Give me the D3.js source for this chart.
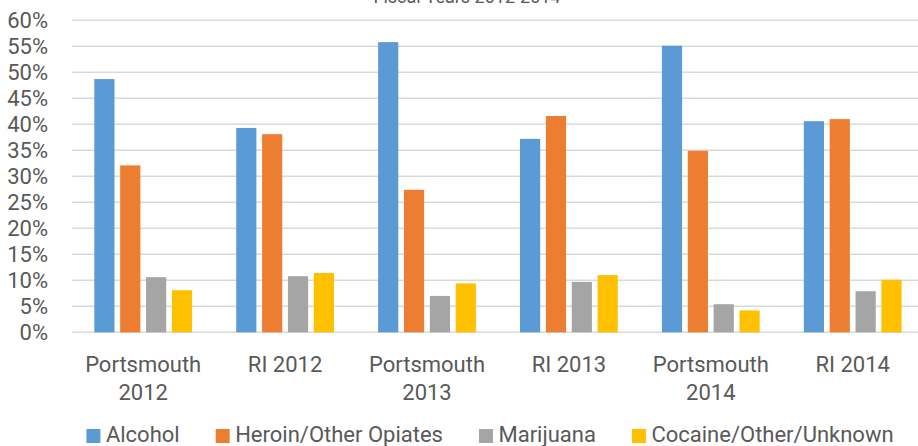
<!DOCTYPE html>
<html>
<head>
<meta charset="utf-8">
<script src="https://cdn.jsdelivr.net/npm/d3@7"></script>
<style>
  html, body { margin: 0; padding: 0; background: #fff; }
  svg { display: block; font-family: Roboto, "Noto Sans", sans-serif; }
</style>
</head>
<body>
<svg width="918" height="446"></svg>
<script>
const categories = [
  ["Portsmouth", "2012"],
  ["RI 2012"],
  ["Portsmouth", "2013"],
  ["RI 2013"],
  ["Portsmouth", "2014"],
  ["RI 2014"]
];
const seriesNames = ["Alcohol", "Heroin/Other Opiates", "Marijuana", "Cocaine/Other/Unknown"];
const alcohol = [48.7, 39.3, 55.8, 37.2, 55.1, 40.6];
const heroin = [32.1, 38.1, 27.4, 41.6, 34.9, 41.0];
const marijuana = [10.6, 10.8, 7.0, 9.7, 5.4, 7.9];
const cocaine = [8.1, 11.4, 9.4, 11.0, 4.2, 10.1];
const yTicks = [0, 5, 10, 15, 20, 25, 30, 35, 40, 45, 50, 55, 60];
const colors = ["#5B9BD5", "#ED7D31", "#A5A5A5", "#FFC000"];

const series = [alcohol, heroin, marijuana, cocaine];
const textColor = "#595959";

const svg = d3.select("svg");

const plotLeft = 72.25;
const plotWidth = 851.4;
const plotTop = 20.3;
const plotBottom = 332.3;

const x0 = d3.scaleBand()
  .domain(d3.range(categories.length))
  .range([plotLeft, plotLeft + plotWidth])
  .paddingInner(0.311)
  .paddingOuter(0.1555);

const x1 = d3.scaleBand()
  .domain(d3.range(series.length))
  .range([0, x0.bandwidth()])
  .paddingInner(0.22);

const y = d3.scaleLinear().domain([0, 60]).range([plotBottom, plotTop]);

// gridlines
svg.append("g")
  .selectAll("line")
  .data(yTicks)
  .join("line")
  .attr("x1", plotLeft)
  .attr("x2", 918)
  .attr("y1", (d) => y(d))
  .attr("y2", (d) => y(d))
  .attr("stroke", "#d9d9d9")
  .attr("stroke-width", 1.6);

// y tick labels
svg.append("g")
  .selectAll("text")
  .data(yTicks)
  .join("text")
  .attr("x", 48)
  .attr("y", (d) => y(d))
  .attr("dy", "0.36em")
  .attr("text-anchor", "end")
  .attr("fill", textColor)
  .style("font-size", "22px")
  .text((d) => d + "%");

// bars
const groups = svg.append("g")
  .selectAll("g")
  .data(categories)
  .join("g")
  .attr("transform", (d, i) => `translate(${x0(i)},0)`);

groups.selectAll("rect")
  .data((d, i) => series.map((s, j) => ({ j, v: s[i] })))
  .join("rect")
  .attr("x", (d) => x1(d.j))
  .attr("width", x1.bandwidth())
  .attr("y", (d) => y(d.v))
  .attr("height", (d) => y(0) - y(d.v))
  .attr("fill", (d) => colors[d.j]);

// category labels
const catLabels = svg.append("g")
  .selectAll("text")
  .data(categories)
  .join("text")
  .attr("x", (d, i) => x0(i) + x0.bandwidth() / 2)
  .attr("y", 372)
  .attr("text-anchor", "middle")
  .attr("fill", textColor)
  .style("font-size", "22px");

catLabels.selectAll("tspan")
  .data((d) => d)
  .join("tspan")
  .attr("x", function () { return d3.select(this.parentNode).attr("x"); })
  .attr("dy", (d, i) => (i === 0 ? 0 : 28))
  .text((d) => d);

// title (cut off at the top, as in the source image)
svg.append("text")
  .attr("x", 467)
  .attr("y", 3)
  .attr("text-anchor", "middle")
  .attr("fill", textColor)
  .style("font-size", "18px")
  .text("Fiscal Years 2012-2014");

// legend
const legend = svg.append("g");
const items = legend.selectAll("g")
  .data(seriesNames)
  .join("g");

items.append("rect")
  .attr("y", 429)
  .attr("width", 14)
  .attr("height", 14)
  .attr("fill", (d, i) => colors[i]);

items.append("text")
  .attr("x", 19.5)
  .attr("y", 442)
  .attr("fill", textColor)
  .style("font-size", "22px")
  .text((d) => d);

let offset = 0;
const widths = [];
items.each(function () {
  const w = d3.select(this).select("text").node().getComputedTextLength() + 19.5;
  widths.push(w);
});
const gap = 36;
const total = d3.sum(widths) + gap * (widths.length - 1);
const start = 490 - total / 2;
items.attr("transform", (d, i) => {
  const tx = start + offset;
  offset += widths[i] + gap;
  return `translate(${tx},0)`;
});
</script>
</body>
</html>
